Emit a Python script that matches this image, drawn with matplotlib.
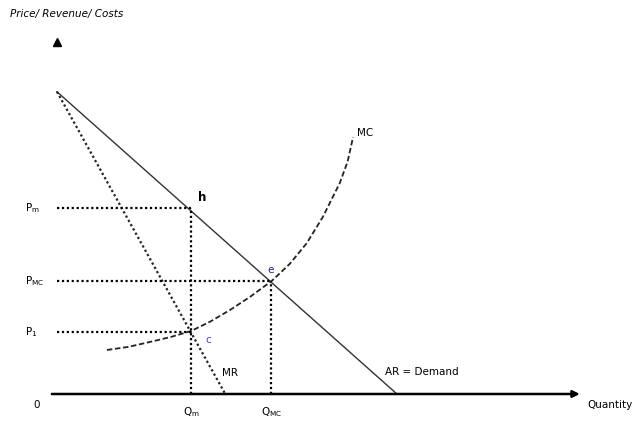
import matplotlib
matplotlib.use("Agg")
import matplotlib.pyplot as plt

plt.rcParams['font.family'] = ['DejaVu Sans']
plt.rcParams['mathtext.fontset'] = 'dejavusans'

# demand (AR) and marginal revenue: straight lines, intercepts
demand_q = [0, 10.0]
demand_p = [9.75, 0]
mr_q = [0, 4.95]
mr_p = [9.75, 0]

# marginal cost curve
mc_q = [1.47, 2.1, 2.74, 3.35, 3.94, 4.5, 5.09, 5.7, 6.32, 6.85, 7.35, 7.82, 8.32, 8.55, 8.71]
mc_p = [1.42, 1.52, 1.68, 1.84, 2.03, 2.33, 2.71, 3.15, 3.65, 4.2, 4.87, 5.71, 6.81, 7.5, 8.29]

# equilibrium values
q_m = 3.95     # monopoly output (MR = MC)
p_m = 6.0      # monopoly price (on AR)
p_1 = 2.0      # MC at monopoly output
q_mc = 6.3     # output where MC = AR
p_mc = 3.65

fig = plt.figure(figsize=(6.4, 4.21), dpi=100)
ax = fig.add_axes([0, 0, 1, 1])
ax.set_xlim(-1.676, 17.15)
ax.set_ylim(-0.871, 12.71)
ax.axis('off')

# axes: horizontal axis with arrow, only the arrow head of the vertical one
ax.annotate('', xy=(15.38, 0), xytext=(-0.15, 0),
            arrowprops=dict(arrowstyle='-|>', color='black', lw=1.8,
                            mutation_scale=10, shrinkA=0, shrinkB=0))
ax.plot([0], [11.35], marker='^', color='black', markersize=6)

# curves
ax.plot(demand_q, demand_p, color='#333333', lw=1.0)
ax.plot(mr_q, mr_p, color='#222222', lw=1.6, linestyle=(0, (1, 1.2)))
ax.plot(mc_q, mc_p, color='#222222', lw=1.3, linestyle=(0, (3, 1.5)))

# dotted guide lines
dot = dict(color='black', lw=1.6, linestyle=(0, (1, 1.2)))
ax.plot([0, q_m], [p_m, p_m], **dot)
ax.plot([0, q_mc], [p_mc, p_mc], **dot)
ax.plot([0, q_m], [p_1, p_1], **dot)
ax.plot([q_m, q_m], [0, p_m], **dot)
ax.plot([q_mc, q_mc], [0, p_mc], **dot)

fs = 7.5
ax.text(-1.38, 12.26, 'Price/ Revenue/ Costs', fontsize=fs, style='italic',
        ha='left', va='center')
ax.text(-0.94, p_m, r'P$_\mathrm{m}$', fontsize=fs, ha='left', va='center')
ax.text(-0.94, p_mc, r'P$_\mathrm{MC}$', fontsize=fs, ha='left', va='center')
ax.text(-0.94, p_1, r'P$_\mathrm{1}$', fontsize=fs, ha='left', va='center')
ax.text(-0.59, -0.35, '0', fontsize=fs, ha='center', va='center')
ax.text(q_m, -0.58, r'Q$_\mathrm{m}$', fontsize=fs, ha='center', va='center')
ax.text(q_mc, -0.6, r'Q$_\mathrm{MC}$', fontsize=fs, ha='center', va='center')
ax.text(15.59, -0.35, 'Quantity', fontsize=fs, ha='left', va='center')
ax.text(4.26, 6.35, 'h', fontsize=fs + 1, fontweight='bold', ha='center', va='center')
ax.text(6.29, 4.0, 'e', fontsize=fs, color='#1a237e', ha='center', va='center')
ax.text(4.44, 1.74, 'c', fontsize=fs, color='#3949ab', ha='center', va='center')
ax.text(8.82, 8.42, 'MC', fontsize=fs, ha='left', va='center')
ax.text(4.85, 0.68, 'MR', fontsize=fs, ha='left', va='center')
ax.text(9.65, 0.71, 'AR = Demand', fontsize=fs, ha='left', va='center')

fig.savefig('out.png', dpi=100)
